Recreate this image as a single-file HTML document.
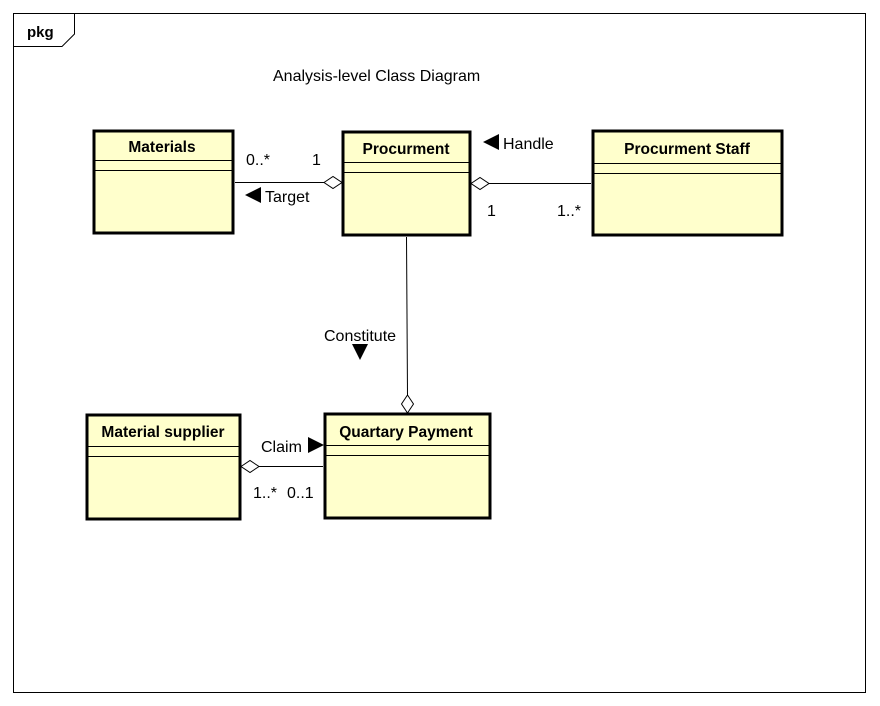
<!DOCTYPE html>
<html><head><style>html,body{margin:0;padding:0;background:#fff}svg{display:block}</style></head><body>
<svg width="880" height="706" xmlns="http://www.w3.org/2000/svg" font-family="Liberation Sans, Arial, sans-serif">
<rect x="13.5" y="13.5" width="852" height="679" fill="#fff" stroke="#000" stroke-width="1"/>
<path d="M13.5 46.5 H62 L74.5 34 V13.5" fill="none" stroke="#000"/>
<text x="27" y="37" font-size="15" font-weight="bold">pkg</text>
<text x="273" y="81" font-size="16">Analysis-level Class Diagram</text>

<g fill="#ffffcc" stroke="#000" stroke-width="3">
<rect x="94" y="131" width="139" height="102"/>
<rect x="343" y="132" width="127" height="103"/>
<rect x="593" y="131" width="189" height="104"/>
<rect x="87" y="415" width="153" height="104"/>
<rect x="325" y="414" width="165" height="104"/>
</g>
<g stroke="#000" stroke-width="1">
<line x1="94" y1="160.5" x2="233" y2="160.5"/><line x1="94" y1="170.5" x2="233" y2="170.5"/>
<line x1="343" y1="162.5" x2="470" y2="162.5"/><line x1="343" y1="172.5" x2="470" y2="172.5"/>
<line x1="593" y1="163.5" x2="782" y2="163.5"/><line x1="593" y1="173.5" x2="782" y2="173.5"/>
<line x1="87" y1="446.5" x2="240" y2="446.5"/><line x1="87" y1="456.5" x2="240" y2="456.5"/>
<line x1="325" y1="445.5" x2="490" y2="445.5"/><line x1="325" y1="455.5" x2="490" y2="455.5"/>
</g>
<g font-size="15.5" font-weight="bold" text-anchor="middle">
<text x="162" y="152">Materials</text>
<text x="406" y="154">Procurment</text>
<text x="687" y="154">Procurment Staff</text>
<text x="163" y="437">Material supplier</text>
<text x="406" y="437">Quartary Payment</text>
</g>

<g stroke="#000" stroke-width="1" fill="#fff">
<line x1="235" y1="182.5" x2="325" y2="182.5"/>
<path d="M324 182.5 L333 176.5 L342 182.5 L333 188.5 Z"/>
<line x1="489" y1="183.5" x2="591" y2="183.5"/>
<path d="M471 183.5 L480 177.5 L489 183.5 L480 189.5 Z"/>
<line x1="406.5" y1="237" x2="407.5" y2="395"/>
<path d="M407.5 395 L413.5 404 L407.5 413 L401.5 404 Z"/>
<line x1="259" y1="466.5" x2="323" y2="466.5"/>
<path d="M241 466.5 L250 460.5 L259 466.5 L250 472.5 Z"/>
</g>
<g fill="#000">
<path d="M245 195 L261 187 L261 203 Z"/>
<path d="M483 142 L499 134 L499 150 Z"/>
<path d="M352 344 L368 344 L360 360 Z"/>
<path d="M308 437 L324 445 L308 453 Z"/>
</g>
<g font-size="16">
<text x="246" y="165">0..*</text>
<text x="312" y="165">1</text>
<text x="265" y="202">Target</text>
<text x="503" y="149">Handle</text>
<text x="487" y="216">1</text>
<text x="557" y="216">1..*</text>
<text x="324" y="341">Constitute</text>
<text x="261" y="452">Claim</text>
<text x="253" y="498">1..*</text>
<text x="287" y="498">0..1</text>
</g>
</svg>
</body></html>
